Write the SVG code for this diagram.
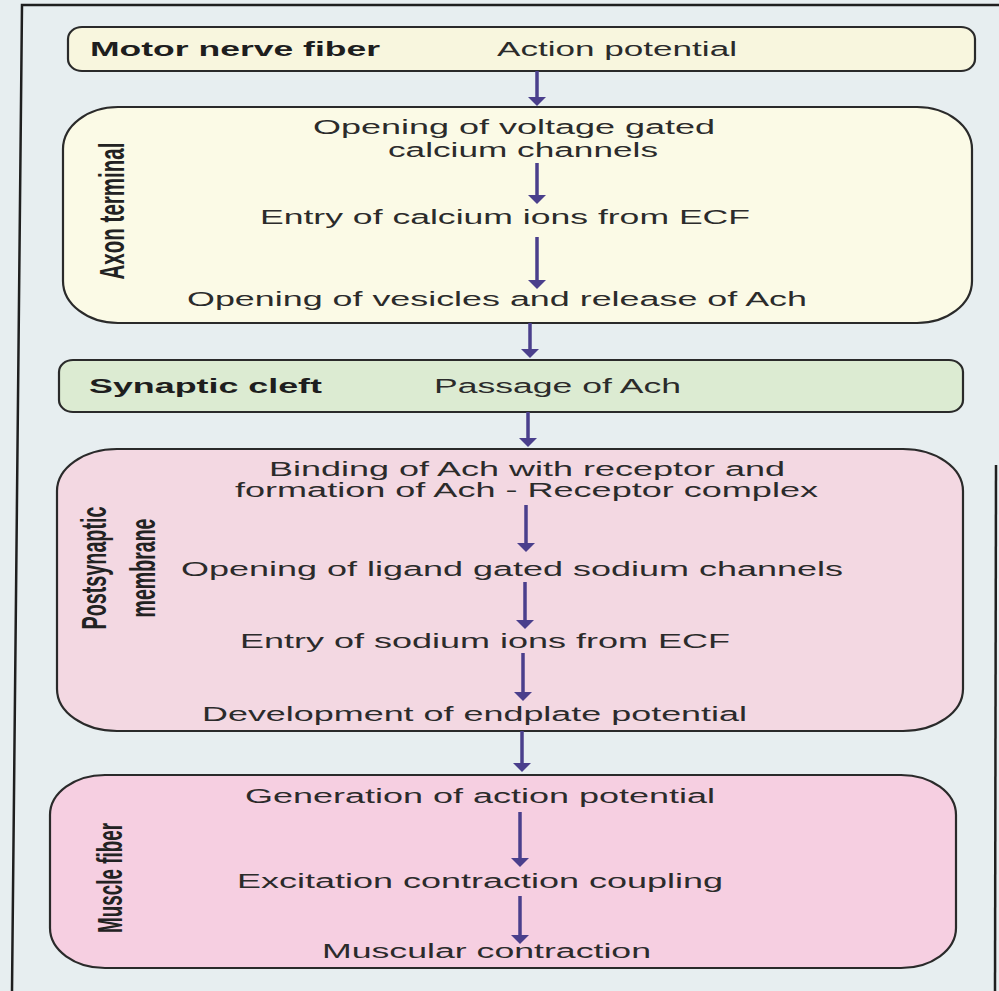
<svg xmlns="http://www.w3.org/2000/svg" width="999" height="991" viewBox="0 0 999 991">
<style>
.t{font-family:"Liberation Sans",Arial,sans-serif;font-size:20px;fill:#2b2b2b}
.b{font-weight:bold;fill:#1e1e1e}
.v{font-family:"Liberation Sans",Arial,sans-serif;font-size:19px;font-weight:bold;fill:#222;text-anchor:middle;dominant-baseline:central}
.box{stroke:#2a2a2a;stroke-width:2.2}
.arr{stroke:#4a3f8c;stroke-width:3.5;fill:none}
.frame{stroke:#1f1f1f;stroke-width:2.5;fill:none}
</style>
<defs>
<marker id="ah" viewBox="0 0 10 20" markerWidth="10" markerHeight="18" refX="0" refY="10" orient="auto" markerUnits="userSpaceOnUse">
<path d="M0,0 L10,10 L0,20 z" fill="#4a3f8c"/>
</marker>
</defs>
<rect x="0" y="0" width="999" height="991" fill="#e7eef0"/>
<g id="frame">
<path class="frame" d="M12,991 L22,5 L999,5"/>
<path class="frame" d="M996,465 L995,991"/>
</g>
<g id="motor-nerve-fiber">
<rect class="box" x="68" y="27" width="907" height="44" rx="14" ry="12" fill="#f8f6de"/>
<text class="t b" x="90" y="56" textLength="290" lengthAdjust="spacingAndGlyphs">Motor nerve fiber</text>
<text class="t" x="497" y="56" textLength="240" lengthAdjust="spacingAndGlyphs">Action potential</text>
</g>
<g id="axon-terminal">
<rect class="box" x="63" y="107" width="909" height="216" rx="55" ry="42" fill="#fbfae6"/>
<text class="v" transform="translate(112,211) scale(1.8,1) rotate(-90)" textLength="137" lengthAdjust="spacingAndGlyphs">Axon terminal</text>
<text class="t" x="313" y="134" textLength="402" lengthAdjust="spacingAndGlyphs">Opening of voltage gated</text>
<text class="t" x="388" y="157" textLength="270" lengthAdjust="spacingAndGlyphs">calcium channels</text>
<text class="t" x="260" y="224" textLength="490" lengthAdjust="spacingAndGlyphs">Entry of calcium ions from ECF</text>
<text class="t" x="187" y="306" textLength="620" lengthAdjust="spacingAndGlyphs">Opening of vesicles and release of Ach</text>
</g>
<g id="synaptic-cleft">
<rect class="box" x="59" y="360" width="904" height="52" rx="14" ry="12" fill="#dcebd2"/>
<text class="t b" x="89" y="393" textLength="233" lengthAdjust="spacingAndGlyphs">Synaptic cleft</text>
<text class="t" x="434" y="393" textLength="247" lengthAdjust="spacingAndGlyphs">Passage of Ach</text>
</g>
<g id="postsynaptic-membrane">
<rect class="box" x="57" y="449" width="906" height="282" rx="60" ry="42" fill="#f3d8e2"/>
<text class="v" transform="translate(94,568) scale(1.8,1) rotate(-90)" textLength="123" lengthAdjust="spacingAndGlyphs">Postsynaptic</text>
<text class="v" transform="translate(143,568) scale(1.8,1) rotate(-90)" textLength="99" lengthAdjust="spacingAndGlyphs">membrane</text>
<text class="t" x="269" y="476" textLength="516" lengthAdjust="spacingAndGlyphs">Binding of Ach with receptor and</text>
<text class="t" x="235" y="497" textLength="583" lengthAdjust="spacingAndGlyphs">formation of Ach - Receptor complex</text>
<text class="t" x="181" y="576" textLength="662" lengthAdjust="spacingAndGlyphs">Opening of ligand gated sodium channels</text>
<text class="t" x="240" y="648" textLength="490" lengthAdjust="spacingAndGlyphs">Entry of sodium ions from ECF</text>
<text class="t" x="202" y="721" textLength="545" lengthAdjust="spacingAndGlyphs">Development of endplate potential</text>
</g>
<g id="muscle-fiber">
<rect class="box" x="50" y="775" width="906" height="193" rx="55" ry="40" fill="#f6cfe1"/>
<text class="v" transform="translate(110,878) scale(1.8,1) rotate(-90)" textLength="110" lengthAdjust="spacingAndGlyphs">Muscle fiber</text>
<text class="t" x="245" y="803" textLength="470" lengthAdjust="spacingAndGlyphs">Generation of action potential</text>
<text class="t" x="237" y="888" textLength="486" lengthAdjust="spacingAndGlyphs">Excitation contraction coupling</text>
<text class="t" x="322" y="958" textLength="329" lengthAdjust="spacingAndGlyphs">Muscular contraction</text>
</g>
<g id="connectors">
<line class="arr" x1="537" y1="71" x2="537" y2="97" marker-end="url(#ah)"/>
<line class="arr" x1="537" y1="163" x2="537" y2="195" marker-end="url(#ah)"/>
<line class="arr" x1="537" y1="237" x2="537" y2="280" marker-end="url(#ah)"/>
<line class="arr" x1="530" y1="323" x2="530" y2="349" marker-end="url(#ah)"/>
<line class="arr" x1="528" y1="412" x2="528" y2="438" marker-end="url(#ah)"/>
<line class="arr" x1="526" y1="505" x2="526" y2="543" marker-end="url(#ah)"/>
<line class="arr" x1="525" y1="582" x2="525" y2="620" marker-end="url(#ah)"/>
<line class="arr" x1="523" y1="653" x2="523" y2="692" marker-end="url(#ah)"/>
<line class="arr" x1="522" y1="731" x2="522" y2="763" marker-end="url(#ah)"/>
<line class="arr" x1="520" y1="812" x2="520" y2="858" marker-end="url(#ah)"/>
<line class="arr" x1="520" y1="896" x2="520" y2="935" marker-end="url(#ah)"/>
</g>
</svg>
